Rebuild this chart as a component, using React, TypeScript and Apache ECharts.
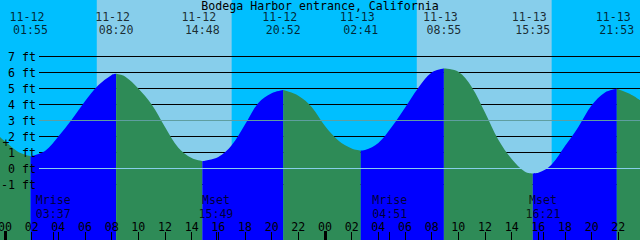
import React, { useEffect, useRef } from "react";
import * as echarts from "echarts";

const TITLE = "Bodega Harbor entrance, California";

// Tide curve samples ("MM-DD HH:MM", feet)
const sampleTimes = [
  "11-11 23:37", "11-12 00:00", "11-12 01:00", "11-12 01:55", "11-12 03:00", "11-12 04:00",
  "11-12 05:00", "11-12 06:00", "11-12 07:00", "11-12 08:00", "11-12 08:20", "11-12 09:00",
  "11-12 10:00", "11-12 11:00", "11-12 12:00", "11-12 13:00", "11-12 14:00", "11-12 14:48",
  "11-12 16:00", "11-12 17:00", "11-12 18:00", "11-12 19:00", "11-12 20:00", "11-12 20:52",
  "11-12 22:00", "11-12 23:00", "11-13 00:00", "11-13 01:00", "11-13 02:00", "11-13 02:41",
  "11-13 03:00", "11-13 04:00", "11-13 05:00", "11-13 06:00", "11-13 07:00", "11-13 08:00",
  "11-13 08:55", "11-13 10:00", "11-13 11:00", "11-13 12:00", "11-13 13:00", "11-13 14:00",
  "11-13 15:00", "11-13 15:35", "11-13 16:00", "11-13 17:00", "11-13 18:00", "11-13 19:00",
  "11-13 20:00", "11-13 21:00", "11-13 21:53", "11-13 23:00", "11-13 23:38",
];
const sampleFeet = [
  1.98, 1.7, 1.03, 0.77, 1.1, 2.0,
  3.05, 4.2, 5.2, 5.85, 5.92, 5.75,
  5.0, 4.0, 2.6, 1.3, 0.65, 0.46,
  0.72, 1.45, 2.75, 4.1, 4.7, 4.9,
  4.55, 3.85, 2.65, 1.75, 1.25, 1.12,
  1.15, 1.6, 2.6, 3.8, 5.05, 6.0,
  6.25, 6.05, 5.1, 3.5, 1.8, 0.6,
  -0.2, -0.31, -0.27, 0.25, 1.4, 2.6,
  3.95, 4.75, 4.98, 4.6, 4.27,
];

// Tide events (top labels)
const eventDates = ["11-12", "11-12", "11-12", "11-12", "11-13", "11-13", "11-13", "11-13"];
const eventTimes = ["01:55", "08:20", "14:48", "20:52", "02:41", "08:55", "15:35", "21:53"];

// Daylight
const sunriseTimes = ["11-12 06:53", "11-13 06:53"];
const sunsetTimes = ["11-12 17:00", "11-13 17:00"];

// Moon events
const moonLabels = ["Mrise", "Mset", "Mrise", "Mset"];
const moonDates = ["11-12", "11-12", "11-13", "11-13"];
const moonTimes = ["03:37", "15:49", "04:51", "16:21"];

// Axes
const hourTicks = [0, 2, 4, 6, 8, 10, 12, 14, 16, 18, 20, 22, 24, 26, 28, 30, 32, 34, 36, 38, 40, 42, 44, 46, 48];
const dayStartHours = [0, 24];
const footLevels = [-1, 0, 1, 2, 3, 4, 5, 6, 7];
const blackLineFeet = [-1, 1, 2, 4, 5, 6, 7];
const datumLineFeet = [0];
const midLineFeet = [3];

const X_MIN = -0.375;
const X_MAX = 47.625;
const Y_MIN = -4.46875;
const Y_MAX = 10.53125;

const FONT = "DejaVu Sans Mono";
const FS = 11.6;
const LH = 13.5;
const BLUE = "#0000FF";
const GREEN = "#2E8B57";
const NIGHT = "#00BFFF";
const DAY = "#87CEEB";

const toHours = (s: string) => {
  const [d, t] = s.split(" ");
  const day = Number(d.split("-")[1]) - 12;
  const [hh, mm] = t.split(":").map(Number);
  return day * 24 + hh + mm / 60;
};

function buildOption() {
  const samples = sampleTimes.map((t, i) => [toHours(t), sampleFeet[i]]);
  const eventKeys = eventDates.map((d, i) => `${d} ${eventTimes[i]}`);
  const idx = eventKeys.map((k) => sampleTimes.indexOf(k)).filter((i) => i > 0);
  const breaks = [0, ...idx, sampleTimes.length - 1];

  const waterSeries: any[] = [];
  for (let i = 0; i < breaks.length - 1; i++) {
    const a = breaks[i];
    const b = breaks[i + 1];
    const rising = sampleFeet[b] > sampleFeet[a];
    waterSeries.push({
      type: "line",
      xAxisIndex: 0,
      yAxisIndex: 0,
      data: samples.slice(a, b + 1),
      smooth: 0.35,
      symbol: "none",
      showSymbol: false,
      silent: true,
      z: 3,
      lineStyle: { width: 0 },
      areaStyle: { color: rising ? BLUE : GREEN, opacity: 1, origin: "start" },
    });
  }

  const moonHours = moonDates.map((d, i) => toHours(`${d} ${moonTimes[i]}`));

  const textBase = { fontFamily: FONT, fontSize: FS, color: "#000", lineHeight: LH };

  const hiddenAxisLine = { show: false, onZero: false };

  return {
    animation: false,
    title: {
      text: TITLE,
      left: "center",
      top: 0,
      padding: 0,
      textStyle: { fontFamily: FONT, fontSize: FS, fontWeight: "normal", color: "#000", lineHeight: 11 },
    },
    grid: [
      {
        left: 0, right: 0, top: 0, bottom: 0, containLabel: false, outerBoundsMode: "none",
        show: true, backgroundColor: NIGHT, borderWidth: 0,
      },
      { left: 39, right: 0, top: 0, bottom: 0, containLabel: false, outerBoundsMode: "none" },
    ],
    xAxis: [
      {
        type: "value",
        gridIndex: 0,
        position: "bottom",
        min: X_MIN,
        max: X_MAX,
        z: 10,
        axisLine: hiddenAxisLine,
        splitLine: { show: false },
        axisTick: {
          show: true,
          inside: true,
          length: 8,
          customValues: [...hourTicks, ...moonHours],
          lineStyle: { color: "#000", width: 1 },
        },
        axisLabel: {
          show: true,
          inside: true,
          margin: 13,
          customValues: hourTicks,
          hideOverlap: false,
          verticalAlign: "middle",
          lineHeight: 12,
          formatter: (v: number) => String(Math.round(v) % 24).padStart(2, "0"),
          fontFamily: FONT,
          fontSize: FS,
          color: "#000",
        },
      },
      {
        type: "value", gridIndex: 1, min: X_MIN, max: X_MAX, show: false,
        axisLine: hiddenAxisLine, axisTick: { show: false }, axisLabel: { show: false }, splitLine: { show: false },
      },
      {
        type: "value",
        gridIndex: 0,
        position: "bottom",
        min: X_MIN,
        max: X_MAX,
        z: 11,
        axisLine: hiddenAxisLine,
        splitLine: { show: false },
        axisLabel: { show: false },
        axisTick: {
          show: true,
          inside: true,
          length: 9,
          customValues: dayStartHours,
          lineStyle: { color: "#000", width: 3 },
        },
      },
    ],
    yAxis: [
      {
        type: "value", gridIndex: 0, min: Y_MIN, max: Y_MAX, show: false,
        axisLine: hiddenAxisLine, axisTick: { show: false }, axisLabel: { show: false }, splitLine: { show: false },
      },
      {
        type: "value",
        gridIndex: 1,
        min: Y_MIN,
        max: Y_MAX,
        z: 10,
        axisLine: hiddenAxisLine,
        axisTick: { show: false },
        splitLine: { show: false },
        axisLabel: {
          show: true,
          customValues: footLevels,
          margin: 3,
          formatter: (v: number) => `${v} ft`,
          fontFamily: FONT,
          fontSize: FS,
          color: "#000",
        },
      },
    ],
    graphic: [
      {
        type: "text",
        x: 6,
        y: 143,
        z: 20,
        style: { text: "+", font: `${FS}px "${FONT}"`, fill: "#000", align: "center", verticalAlign: "middle" },
      },
    ],
    series: [
      {
        type: "line",
        xAxisIndex: 0,
        yAxisIndex: 0,
        data: [],
        silent: true,
        markArea: {
          z: 1,
          silent: true,
          itemStyle: { color: DAY, opacity: 1 },
          label: { show: false },
          data: sunriseTimes.map((s, i) => [{ xAxis: toHours(s) }, { xAxis: toHours(sunsetTimes[i]) }]),
        },
      },
      {
        type: "line",
        xAxisIndex: 1,
        yAxisIndex: 1,
        data: [],
        silent: true,
        markLine: {
          z: 2,
          silent: true,
          symbol: ["none", "none"],
          label: { show: false },
          lineStyle: { color: "#000", width: 1, type: "solid" },
          emphasis: { disabled: true },
          data: blackLineFeet.map((v) => ({ yAxis: v })),
        },
      },
      ...waterSeries,
      {
        type: "line",
        xAxisIndex: 1,
        yAxisIndex: 1,
        data: [],
        silent: true,
        markLine: {
          z: 4,
          silent: true,
          symbol: ["none", "none"],
          label: { show: false },
          emphasis: { disabled: true },
          data: [
            ...datumLineFeet.map((v) => ({ yAxis: v, lineStyle: { color: "#87CEEB", width: 1, type: "solid" } })),
            ...midLineFeet.map((v) => ({ yAxis: v, lineStyle: { color: "#5F9EA0", width: 1, type: "solid" } })),
          ],
        },
      },
      {
        type: "scatter",
        xAxisIndex: 0,
        yAxisIndex: 0,
        symbolSize: 0,
        clip: false,
        silent: true,
        z: 10,
        itemStyle: { color: "transparent" },
        data: eventKeys.map((k) => [toHours(k), Y_MAX]),
        label: {
          show: true,
          position: "inside",
          offset: [0, 23.5],
          formatter: (p: any) => `{d|${eventDates[p.dataIndex]}}\n{t|${eventTimes[p.dataIndex]}}`,
          rich: {
            d: { ...textBase, align: "center", padding: [0, 7, 0, 0] },
            t: { ...textBase, align: "center" },
          },
        },
      },
      {
        type: "scatter",
        xAxisIndex: 0,
        yAxisIndex: 0,
        symbolSize: 0,
        clip: false,
        silent: true,
        z: 10,
        itemStyle: { color: "transparent" },
        data: moonHours.map((h) => [h, Y_MIN]),
        label: {
          show: true,
          position: "inside",
          offset: [0, -33.25],
          formatter: (p: any) => `{m|${moonLabels[p.dataIndex]}}\n{m|${moonTimes[p.dataIndex]}}`,
          rich: {
            m: { ...textBase, align: "center" },
          },
        },
      },
    ],
  };
}

export default function App() {
  const ref = useRef<HTMLDivElement>(null);
  useEffect(() => {
    if (!ref.current) return;
    const chart = echarts.init(ref.current, undefined, { renderer: "svg" });
    chart.setOption(buildOption() as any);
    return () => chart.dispose();
  }, []);
  return (
    <div
      ref={ref}
      style={{ position: "absolute", left: 0, top: 0, width: 640, height: 240 }}
    />
  );
}
